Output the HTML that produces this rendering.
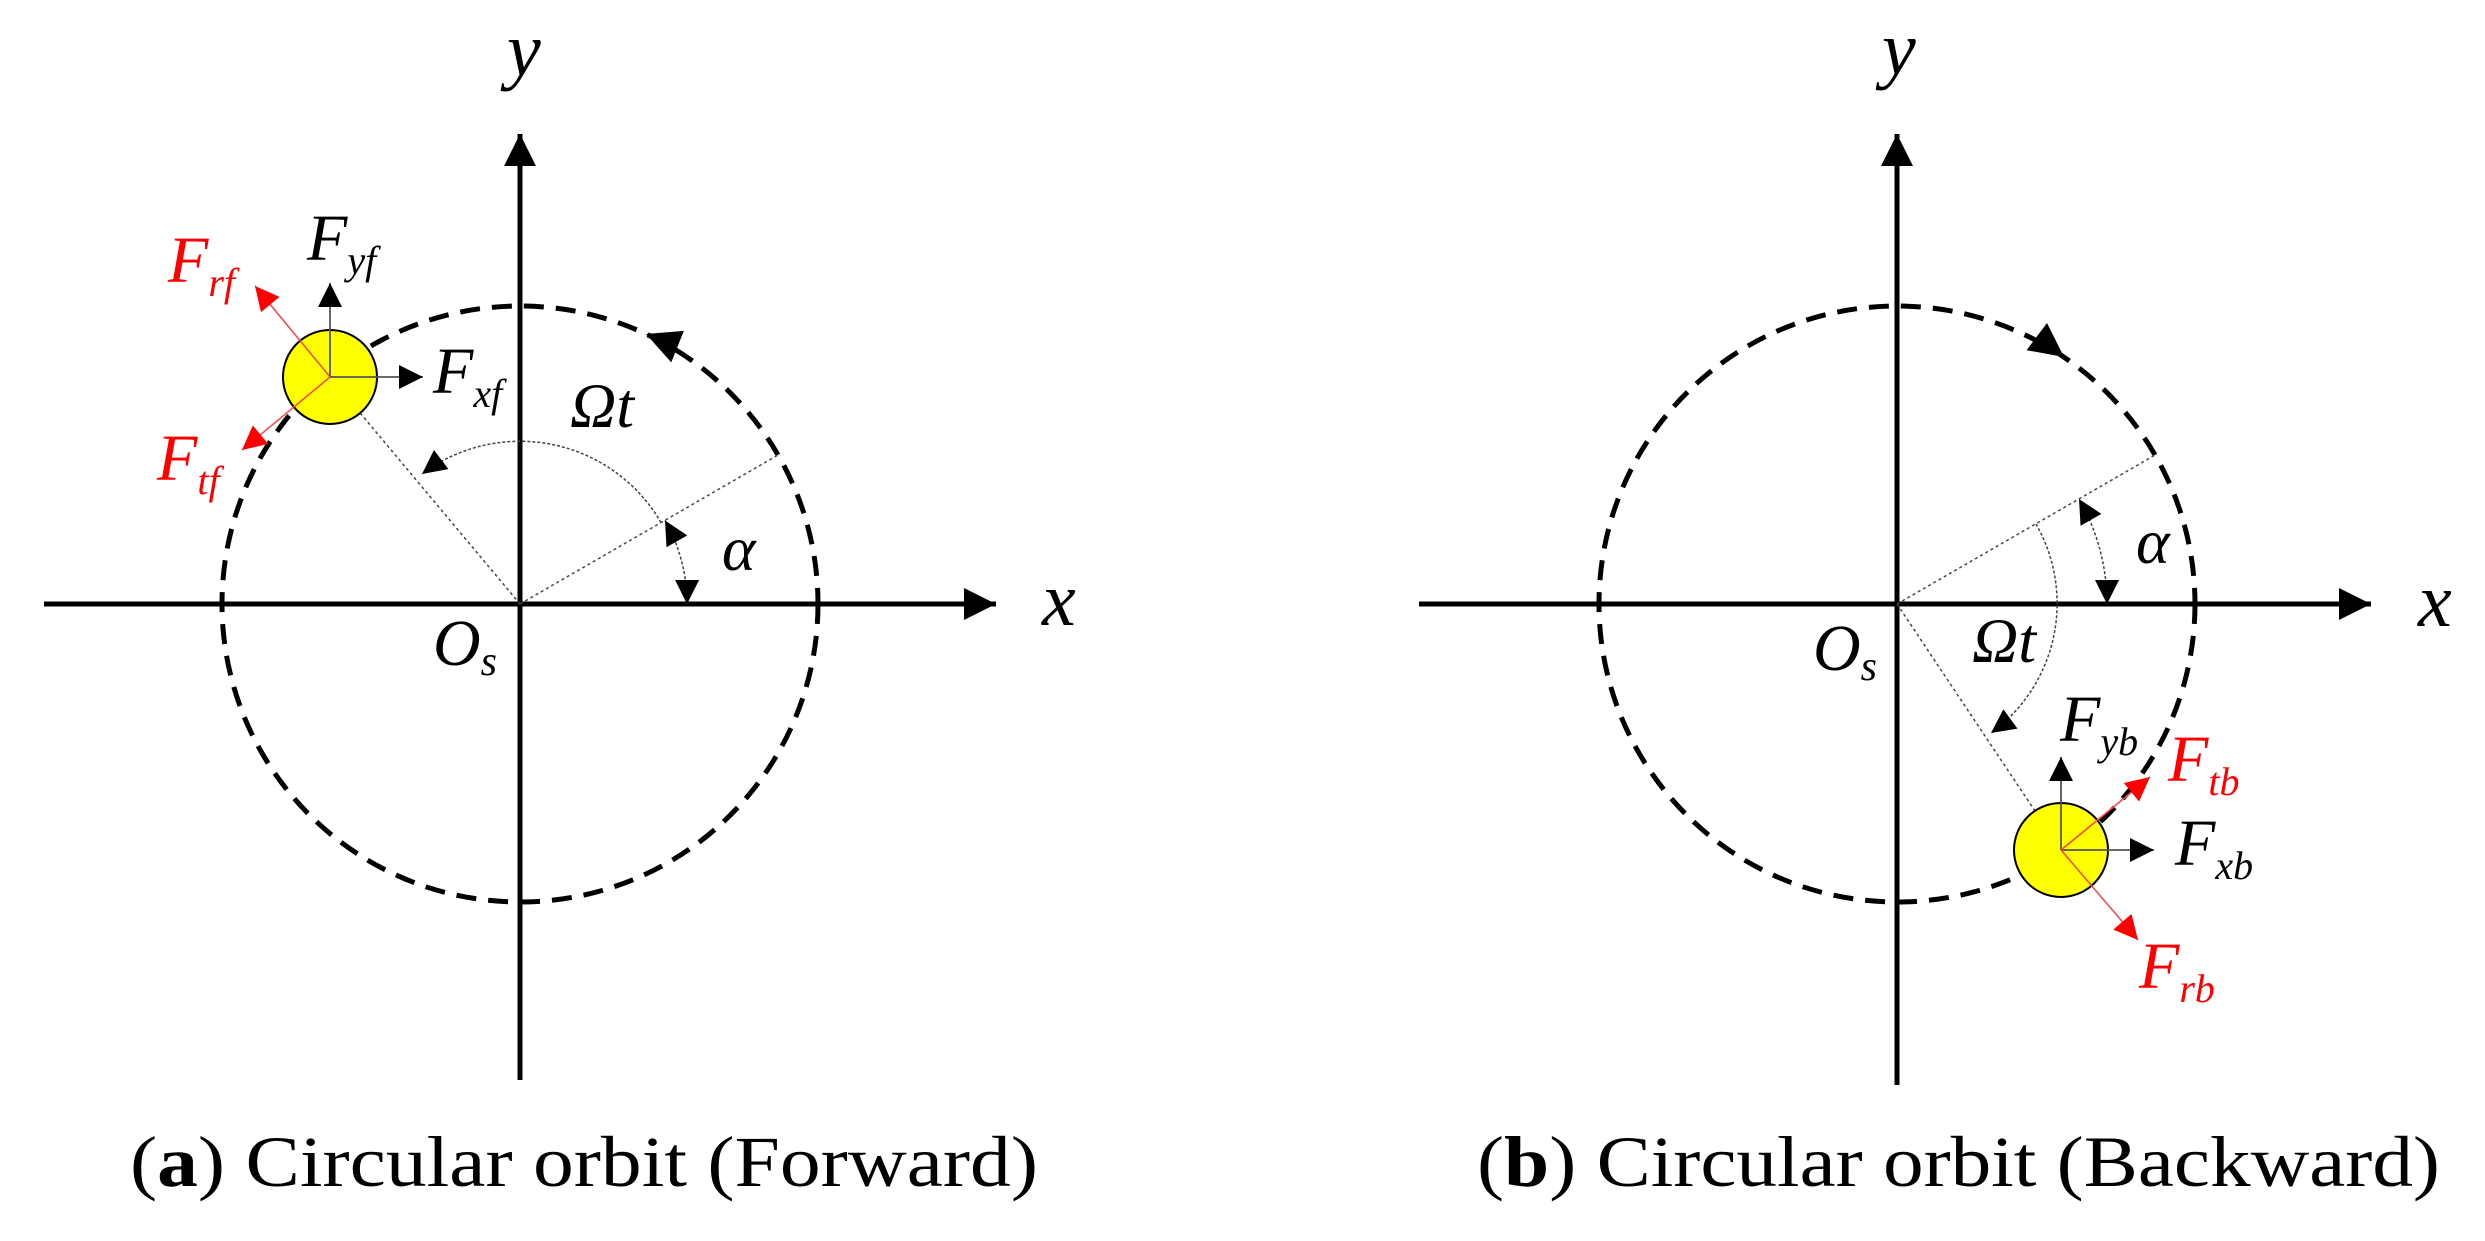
<!DOCTYPE html>
<html><head><meta charset="utf-8"><style>
html,body{margin:0;padding:0;background:#fff;}
svg{display:block;}
text{font-family:"Liberation Serif","Times New Roman",serif;}
.it{font-style:italic;}
</style></head><body>
<svg width="2485" height="1241" viewBox="0 0 2485 1241" xmlns="http://www.w3.org/2000/svg">
<defs>
<marker id="ab" viewBox="0 0 10 10" refX="10" refY="5" markerUnits="userSpaceOnUse" markerWidth="34" markerHeight="24" orient="auto-start-reverse"><path d="M0,0 L10,5 L0,10 z" fill="#000"/></marker>
<marker id="ar" viewBox="0 0 10 10" refX="10" refY="5" markerUnits="userSpaceOnUse" markerWidth="34" markerHeight="24" orient="auto"><path d="M0,0 L10,5 L0,10 z" fill="#f00"/></marker>
<marker id="as" viewBox="0 0 10 10" refX="10" refY="5" markerUnits="userSpaceOnUse" markerWidth="34" markerHeight="24" orient="auto-start-reverse"><path d="M0,0 L10,5 L0,10 z" fill="#000"/></marker>
<marker id="abig" viewBox="0 0 10 10" refX="10" refY="5" markerUnits="userSpaceOnUse" markerWidth="50" markerHeight="34" orient="auto"><path d="M0,0 L10,5 L0,10 z" fill="#000"/></marker>
<marker id="axis" viewBox="0 0 10 10" refX="10" refY="5" markerUnits="userSpaceOnUse" markerWidth="50" markerHeight="32" orient="auto"><path d="M0,0 L10,5 L0,10 z" fill="#000"/></marker>
</defs>

<!-- ===== LEFT PANEL ===== -->
<circle cx="520" cy="604" r="298" fill="none" stroke="#000" stroke-width="5" stroke-dasharray="20 12"/>
<line x1="44" y1="604" x2="996" y2="604" stroke="#000" stroke-width="5" marker-end="url(#axis)"/>
<line x1="520" y1="1080" x2="520" y2="134" stroke="#000" stroke-width="5" marker-end="url(#axis)"/>
<line x1="520" y1="604" x2="330" y2="377" stroke="#444" stroke-width="1.5" stroke-dasharray="3 3"/>
<line x1="520" y1="604" x2="778" y2="455" stroke="#444" stroke-width="1.5" stroke-dasharray="3 3"/>
<path d="M661,522.5 A163,163 0 0 0 422,474" fill="none" stroke="#444" stroke-width="1.5" stroke-dasharray="3 2" marker-end="url(#as)"/>
<path d="M687,604 A167,167 0 0 0 665,520.5" fill="none" stroke="#444" stroke-width="1.5" stroke-dasharray="3 2" marker-start="url(#as)" marker-end="url(#as)"/>
<path d="M651,336 L646,334" stroke="none" fill="none" marker-end="url(#abig)"/>
<circle cx="330" cy="377" r="47" fill="#ffff00" stroke="#000" stroke-width="2"/>
<line x1="330" y1="377" x2="330" y2="283" stroke="#555" stroke-width="1.8" marker-end="url(#ab)"/>
<line x1="330" y1="377" x2="423" y2="377" stroke="#555" stroke-width="1.8" marker-end="url(#ab)"/>
<line x1="330" y1="377" x2="255" y2="286" stroke="#f44" stroke-width="1.5" marker-end="url(#ar)"/>
<line x1="330" y1="377" x2="242" y2="450" stroke="#f44" stroke-width="1.5" marker-end="url(#ar)"/>
<text class="it" x="507" y="75" font-size="76">y</text>
<text class="it" x="1042" y="625" font-size="76">x</text>
<text class="it" x="433" y="665" font-size="66">O<tspan font-size="42" dy="10">s</tspan></text>
<text class="it" x="570" y="427" font-size="64">Ωt</text>
<text class="it" x="722" y="570" font-size="64">α</text>
<text class="it" x="307" y="260" font-size="66">F<tspan font-size="40" dy="14">yf</tspan></text>
<text class="it" x="433" y="393" font-size="66">F<tspan font-size="40" dy="14">xf</tspan></text>
<text class="it" x="168" y="282" font-size="66" fill="#f00">F<tspan font-size="40" dy="14">rf</tspan></text>
<text class="it" x="157" y="480" font-size="66" fill="#f00">F<tspan font-size="40" dy="14">tf</tspan></text>
<text x="130" y="1186" font-size="72" textLength="908" lengthAdjust="spacingAndGlyphs">(<tspan font-weight="bold">a</tspan>) Circular orbit (Forward)</text>

<!-- ===== RIGHT PANEL ===== -->
<circle cx="1897" cy="604" r="298" fill="none" stroke="#000" stroke-width="5" stroke-dasharray="20 12"/>
<line x1="1419" y1="604" x2="2371" y2="604" stroke="#000" stroke-width="5" marker-end="url(#axis)"/>
<line x1="1897" y1="1085" x2="1897" y2="134" stroke="#000" stroke-width="5" marker-end="url(#axis)"/>
<line x1="1897" y1="604" x2="2061" y2="850" stroke="#444" stroke-width="1.5" stroke-dasharray="3 3"/>
<line x1="1897" y1="604" x2="2155" y2="455" stroke="#444" stroke-width="1.5" stroke-dasharray="3 3"/>
<path d="M2036,524 A160,160 0 0 1 1991,733" fill="none" stroke="#444" stroke-width="1.5" stroke-dasharray="3 2" marker-end="url(#as)"/>
<path d="M2107,604 A210,210 0 0 0 2079,499" fill="none" stroke="#444" stroke-width="1.5" stroke-dasharray="3 2" marker-start="url(#as)" marker-end="url(#as)"/>
<path d="M2060,354 L2064,357" stroke="none" fill="none" marker-end="url(#abig)"/>
<circle cx="2061" cy="850" r="47" fill="#ffff00" stroke="#000" stroke-width="2"/>
<line x1="2061" y1="850" x2="2061" y2="757" stroke="#555" stroke-width="1.8" marker-end="url(#ab)"/>
<line x1="2061" y1="850" x2="2154" y2="850" stroke="#555" stroke-width="1.8" marker-end="url(#ab)"/>
<line x1="2061" y1="850" x2="2150" y2="777" stroke="#f44" stroke-width="1.5" marker-end="url(#ar)"/>
<line x1="2061" y1="850" x2="2138" y2="940" stroke="#f44" stroke-width="1.5" marker-end="url(#ar)"/>
<text class="it" x="1882" y="74" font-size="76">y</text>
<text class="it" x="2418" y="626" font-size="76">x</text>
<text class="it" x="1813" y="670" font-size="66">O<tspan font-size="42" dy="10">s</tspan></text>
<text class="it" x="1972" y="662" font-size="64">Ωt</text>
<text class="it" x="2136" y="563" font-size="64">α</text>
<text class="it" x="2060" y="741" font-size="66">F<tspan font-size="40" dy="14">yb</tspan></text>
<text class="it" x="2175" y="865" font-size="66">F<tspan font-size="40" dy="14">xb</tspan></text>
<text class="it" x="2168" y="781" font-size="66" fill="#f00">F<tspan font-size="40" dy="14">tb</tspan></text>
<text class="it" x="2139" y="988" font-size="66" fill="#f00">F<tspan font-size="40" dy="14">rb</tspan></text>
<text x="1477" y="1186" font-size="72" textLength="963" lengthAdjust="spacingAndGlyphs">(<tspan font-weight="bold">b</tspan>) Circular orbit (Backward)</text>
</svg>
</body></html>
